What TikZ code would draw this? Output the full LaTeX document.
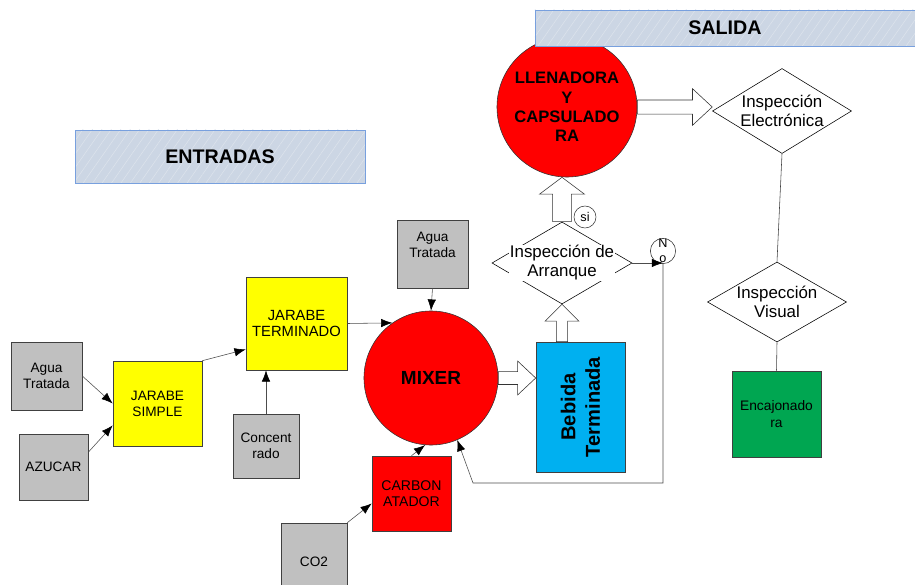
\documentclass[tikz,border=0pt]{standalone}
\usepackage{fontspec}
\setmainfont{Liberation Sans}
\usetikzlibrary{shapes.geometric,arrows.meta,calc,patterns.meta}

\definecolor{boxgray}{RGB}{192,192,192}
\definecolor{procred}{RGB}{255,0,0}
\definecolor{syrup}{RGB}{255,255,0}
\definecolor{drinkblue}{RGB}{0,176,240}
\definecolor{packgreen}{RGB}{0,166,81}
\definecolor{headfill}{RGB}{204,214,228}
\definecolor{headline}{RGB}{120,160,222}
\definecolor{headhatch}{RGB}{220,227,236}

% block arrow to the right: from, to, shaft half, head half, head length
\newcommand{\rblock}[5]{%
  \draw[blockarrow] let \p1=(#1), \p2=(#2) in
    (\x1,\y1+#3) -- (\x2-#5,\y1+#3) -- (\x2-#5,\y1+#4) -- (\x2,\y1)
    -- (\x2-#5,\y1-#4) -- (\x2-#5,\y1-#3) -- (\x1,\y1-#3) -- cycle;}
% block arrow upwards
\newcommand{\ublock}[5]{%
  \draw[blockarrow] let \p1=(#1), \p2=(#2) in
    (\x1+#3,\y1) -- (\x1+#3,\y2-#5) -- (\x1+#4,\y2-#5) -- (\x1,\y2)
    -- (\x1-#4,\y2-#5) -- (\x1-#3,\y2-#5) -- (\x1-#3,\y1) -- cycle;}

\begin{document}
\begin{tikzpicture}[x=0.025cm, y=-0.025cm,
        module/.style={rectangle, draw=black!75, align=center, inner sep=1pt, font=\fontsize{9.7}{11.5}\selectfont},
        graybox/.style={module, fill=boxgray},
        syrupbox/.style={module, fill=syrup},
        machine/.style={circle, draw=black!80, fill=procred, align=center, inner sep=0pt, font=\bfseries},
        decision/.style={diamond, draw=black, inner sep=0pt},
        asklabel/.style={fill=white, inner sep=0.5pt, align=center, font=\fontsize{12}{13.5}\selectfont},
        answer/.style={circle, draw=black!80, inner sep=0pt, align=center, font=\fontsize{9}{10.5}\selectfont},
        header/.style={rectangle, preaction={fill=headfill}, pattern={Lines[angle=55, distance=5.5pt, line width=0.4pt]},
            pattern color=headhatch, draw=headline, font=\fontsize{14}{16}\selectfont\bfseries},
        arrow/.style={->, draw=black!70, >={Latex[length=8pt,width=6pt,black]}},
        blockarrow/.style={draw=black!80, fill=white, line join=miter}
    ]
    \useasboundingbox (0,0) rectangle (915,585);

    % Inputs
    \node[graybox, minimum width=1.775cm, minimum height=1.7cm] (aguaL) at (46.5,376) {Agua\\Tratada};
    \node[graybox, minimum width=1.725cm, minimum height=1.65cm] (azucar) at (53.5,467) {AZUCAR};
    \node[syrupbox, minimum width=2.225cm, minimum height=2.125cm] (simple) at (157.5,403.5) {JARABE\\SIMPLE};
    \node[syrupbox, minimum width=2.525cm, minimum height=2.325cm, font=\fontsize{10.5}{12}\selectfont] (terminado) at (296.5,323.5) {JARABE\\TERMINADO};
    \node[graybox, minimum width=1.65cm, minimum height=1.6cm] (concent) at (266,446) {Concent\\rado};
    \node[graybox, minimum width=1.775cm, minimum height=1.7cm,
        label={[anchor=north, yshift=-5pt, align=center, font=\fontsize{9.7}{11.5}\selectfont]north:Agua\\Tratada}] (aguaT) at (432.5,254) {};
    \node[module, fill=procred, minimum width=1.975cm, minimum height=1.875cm, font=\fontsize{10}{11.5}\selectfont] (carbon) at (411.5,493.5) {CARBON\\ATADOR};
    \node[graybox, minimum width=1.65cm, minimum height=1.925cm] (co2) at (314,561.5) {CO2};

    % Process
    \node[machine, minimum size=3.35cm, font=\fontsize{13.5}{15}\selectfont\bfseries] (mixer) at (431,378) {MIXER};
    \node[module, fill=drinkblue, minimum width=2.225cm, minimum height=3.25cm,
        label={[rotate=90, align=center, font=\fontsize{14.3}{17.5}\selectfont\bfseries]center:Bebida\\Terminada}] (bebida) at (580.5,407) {};
    \node[decision, minimum width=3.5cm, minimum height=2.05cm,
        label={[asklabel]center:Inspección de\\Arranque}] (arranque) at (562,263) {};
    \node[machine, minimum size=3.5cm, font=\fontsize{11.8}{13.8}\selectfont\bfseries] (llenadora) at (567,107) {LLENADORA\\Y\\CAPSULADO\\RA};
    \node[answer, minimum size=0.55cm] (si) at (585,217) {si};
    \node[answer, minimum size=0.6cm] (no) at (663,251) {N\\o};

    % Output
    \node[decision, minimum width=3.475cm, minimum height=2.125cm,
        label={[asklabel]center:Inspección\\Electrónica}] (elec) at (782,111) {};
    \node[decision, minimum width=3.475cm, minimum height=2cm,
        label={[asklabel]center:Inspección\\Visual}] (visual) at (777,302) {};
    \node[module, fill=packgreen, minimum width=2.225cm, minimum height=2.15cm, font=\fontsize{9.8}{12.5}\selectfont] (encaj) at (776.5,414) {Encajonado\\ra};

    \coordinate (nojoin) at (663,263);
    \coordinate (ret) at (473,483);

    % Connect inputs
    \draw[arrow] (aguaL.east) -- (simple.west);
    \draw[arrow] (azucar.23) -- (simple.206);
    \draw[arrow] (simple.north east) -- (terminado.207);
    \draw[arrow] (concent.north) -- (concent.north |- terminado.south);
    \draw[arrow] (terminado.east) -- (mixer.125);
    \draw[arrow] (aguaT.south) -- (mixer.north);
    \draw[arrow] (co2.north east) -- (carbon.194);
    \draw[arrow] (carbon.north) -- (mixer.-95);

    % Block arrows
    \rblock{mixer.east}{bebida.west}{4.6pt}{12pt}{12.8pt}
    \ublock{arranque.south |- bebida.north}{arranque.south}{4pt}{12pt}{12pt}
    \ublock{arranque.north}{llenadora.south}{6.7pt}{16pt}{12pt}
    \rblock{llenadora.east}{elec.west}{5pt}{13pt}{14pt}

    % Inspection loop
    \draw[arrow] (arranque.east) -- (nojoin);
    \draw[arrow] (nojoin) -- (nojoin |- ret) -- (ret) -- (mixer.-67);
    \draw[draw=black!75] (elec.south) -- (visual.north);
    \draw[draw=black!75] (visual.south) -- (encaj.north);

    % Headers
    \node[header, minimum width=7.25cm, minimum height=1.325cm] (entradas) at (220,156.5) {ENTRADAS};
    \node[header, minimum width=9.5cm, minimum height=0.9cm] (salida) at (725,28) {SALIDA};
\end{tikzpicture}
\end{document}
